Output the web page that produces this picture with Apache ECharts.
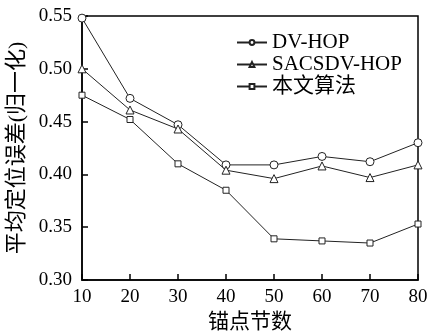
<!DOCTYPE html>
<html>
<head>
<meta charset="utf-8">
<script src="https://cdn.jsdelivr.net/npm/echarts@6/dist/echarts.min.js"></script>
<style>
  html, body { margin: 0; padding: 0; background: #fff; }
  #chart { width: 428px; height: 333px; }
</style>
</head>
<body>
<div id="chart"></div>
<script>
const anchors = [10, 20, 30, 40, 50, 60, 70, 80];
const dvHop = [0.548, 0.472, 0.447, 0.409, 0.409, 0.417, 0.412, 0.430];
const sacsdvHop = [0.500, 0.461, 0.443, 0.404, 0.396, 0.408, 0.397, 0.409];
const ours = [0.475, 0.452, 0.410, 0.385, 0.339, 0.337, 0.335, 0.353];
const seriesNames = ["DV-HOP", "SACSDV-HOP", "本文算法"];

const chart = echarts.init(document.getElementById("chart"));
const font = '"Liberation Serif", "Noto Sans CJK SC", serif';

const makeSeries = (name, values, symbol, size) => ({
  name: name,
  type: "line",
  data: anchors.map((a, i) => [a, values[i]]),
  symbol: symbol,
  symbolSize: size,
  showSymbol: true,
  lineStyle: { color: "#222", width: 1 },
  itemStyle: { color: "#fff", borderColor: "#222", borderWidth: 1 },
  emphasis: { disabled: true },
});

const option = {
  animation: false,
  textStyle: { fontFamily: font, color: "#000" },
  grid: {
    left: 82,
    right: 10,
    top: 16,
    bottom: 53,
    outerBoundsMode: "none",
    containLabel: false,
    show: true,
    borderColor: "#000",
    borderWidth: 1.5,
  },
  legend: {
    orient: "vertical",
    left: 231,
    top: 27,
    itemWidth: 30,
    itemHeight: 6,
    itemGap: 1,
    textStyle: { fontFamily: font, fontSize: 21, lineHeight: 21, color: "#000" },
    data: seriesNames,
  },
  xAxis: {
    type: "value",
    min: 10,
    max: 80,
    interval: 10,
    name: "锚点节数",
    nameLocation: "middle",
    nameGap: 30,
    nameTextStyle: { fontFamily: font, fontSize: 21, color: "#000" },
    axisLine: { lineStyle: { color: "#000", width: 1.5 } },
    axisTick: { inside: true, length: 6, lineStyle: { color: "#000", width: 1.5 } },
    axisLabel: { fontFamily: font, fontSize: 19, color: "#000", margin: 8 },
    splitLine: { show: false },
  },
  yAxis: {
    type: "value",
    min: 0.3,
    max: 0.55,
    interval: 0.05,
    name: "平均定位误差(归一化)",
    nameLocation: "middle",
    nameGap: 51,
    nameTextStyle: { fontFamily: font, fontSize: 22, color: "#000" },
    axisLine: { lineStyle: { color: "#000", width: 1.5 } },
    axisTick: { inside: true, length: 6, lineStyle: { color: "#000", width: 1.5 } },
    axisLabel: {
      fontFamily: font,
      fontSize: 19,
      color: "#000",
      margin: 10,
      formatter: (v) => v.toFixed(2),
    },
    splitLine: { show: false },
  },
  series: [
    makeSeries(seriesNames[0], dvHop, "circle", 8),
    makeSeries(seriesNames[1], sacsdvHop, "triangle", 8),
    makeSeries(seriesNames[2], ours, "rect", 6),
  ],
};

chart.setOption(option);
</script>
</body>
</html>
